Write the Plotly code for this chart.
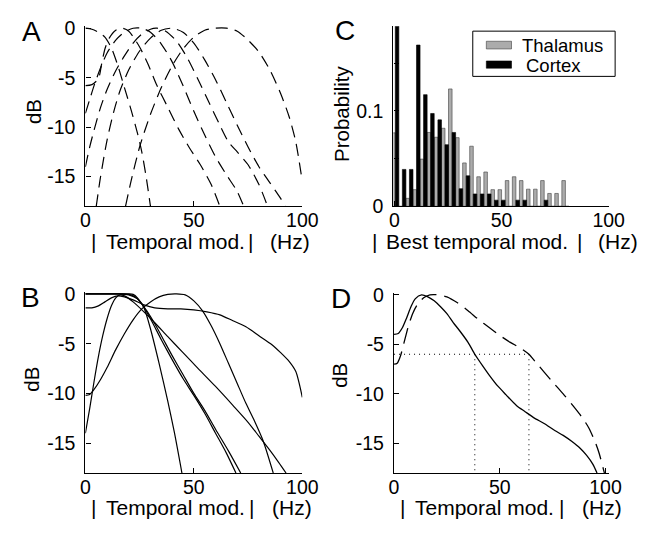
import plotly.graph_objects as go

W, H = 666, 536
FONT = "Liberation Sans, Arial, Helvetica, sans-serif"

# ---------------- Panel A: thalamic model transfer functions (dashed) ----------------
A1_HZ = [0, 3, 6, 9, 12, 15, 18, 21, 24, 26, 28, 30]
A1_DB = [0, -0.1, -0.4, -0.9, -2.0, -3.8, -6.0, -8.2, -10.6, -12.5, -15.0, -18.0]
A2_HZ = [0, 3, 6, 7.5, 9, 11, 14, 17, 20, 25, 29, 33, 38, 43, 48, 53, 58, 62]
A2_DB = [-5.8, -5.7, -5.1, -3.6, -2.1, -1.0, -0.2, 0, -0.3, -1.9, -3.7, -5.8, -8.0, -10.2, -12.1, -13.8, -15.8, -18]
A3_HZ = [0, 2, 4, 7, 10, 14, 18, 22, 26, 30, 35, 40, 45, 50, 55, 60, 65, 70, 73]
A3_DB = [-8.6, -7.2, -5.8, -4.0, -2.5, -1.2, -0.4, 0, 0, -0.4, -1.6, -3.4, -5.8, -8.4, -10.8, -13.0, -14.8, -16.5, -18]
A4_HZ = [0, 2, 4, 7, 10, 14, 18, 22, 26, 30, 33, 37, 42, 47, 52, 57, 62, 66, 70, 75, 80, 84]
A4_DB = [-14, -12.0, -10.3, -8.0, -6.2, -4.3, -2.8, -1.5, -0.6, -0.1, 0, -0.3, -1.3, -3.0, -5.2, -7.5, -9.8, -11.5, -12.5, -13.8, -15.8, -18]
A5_HZ = [5, 7, 10, 13, 16, 20, 25, 30, 35, 40, 45, 50, 55, 60, 65, 70, 75, 80, 85, 90, 92]
A5_DB = [-18, -15.0, -11.3, -8.5, -6.3, -4.2, -2.3, -1.0, -0.2, 0, -0.4, -1.5, -3.2, -5.2, -7.5, -9.8, -12.0, -14.0, -15.6, -17.2, -18]
A6_HZ = [18.5, 21, 25, 30, 35, 40, 45, 50, 55, 60, 65, 70, 75, 80, 85, 90, 94, 97, 100]
A6_DB = [-18, -15.5, -12.0, -8.7, -6.0, -3.8, -2.1, -0.9, -0.2, 0, 0, -0.3, -1.2, -2.4, -4.2, -6.6, -9.0, -11.5, -15.5]

# ---------------- Panel B: cortical transfer functions (solid) ----------------
B1_HZ = [0, 5, 10, 15, 20, 22, 24, 27, 30, 34, 38, 41, 44.5]
B1_DB = [0, 0, 0, 0, 0, -0.05, -0.4, -1.4, -3.5, -7.0, -10.8, -13.9, -18]
B2_HZ = [0, 5, 10, 15, 20, 23, 26, 30, 35, 40, 45, 50, 55, 60, 65, 69.4]
B2_DB = [0, 0, 0, 0, -0.05, -0.3, -1.0, -2.5, -4.6, -6.6, -8.5, -10.2, -12.0, -14.0, -16.0, -18]
B3_HZ = [0, 5, 10, 15, 20, 24, 28, 32, 36, 40, 45, 50, 55, 60, 66, 71.6]
B3_DB = [0, 0, 0, 0, -0.1, -0.5, -1.6, -3.0, -4.6, -6.2, -8.1, -10.0, -11.7, -13.6, -15.8, -18]
B4_HZ = [0, 2, 4, 6, 8, 10, 12, 14, 16, 18, 22, 27, 32, 38, 45, 52, 60, 68, 75, 80, 85, 89, 92.5]
B4_DB = [-14, -11.5, -8.8, -6.3, -4.2, -2.5, -1.2, -0.4, -0.1, -0.2, -0.8, -1.8, -2.9, -4.3, -5.9, -7.5, -9.3, -11.2, -12.9, -14.3, -15.7, -16.9, -18]
B5_HZ = [0, 2, 4, 7, 10, 14, 18, 22, 26, 30, 34, 38, 42, 46, 50, 54, 58, 62, 66, 70, 74, 78, 82, 86.6]
B5_DB = [-10.2, -10.1, -9.6, -8.6, -7.4, -5.6, -4.0, -2.6, -1.5, -0.8, -0.3, -0.05, 0, -0.1, -0.7, -1.7, -3.2, -5.0, -7.0, -9.0, -11.0, -12.8, -14.8, -18]
B6_HZ = [0, 3, 6, 9, 12, 15, 18, 22, 27, 32, 38, 44, 50, 56, 62, 68, 74, 80, 86, 90, 94, 97, 100]
B6_DB = [-1.4, -1.4, -1.2, -0.8, -0.4, -0.2, -0.3, -0.6, -1.1, -1.4, -1.5, -1.5, -1.6, -1.8, -2.1, -2.7, -3.3, -4.2, -5.1, -5.9, -6.8, -7.8, -10.4]

# ---------------- Panel C: histogram of best temporal modulation ----------------
BIN_HZ = [0.4, 3.7, 7.0, 10.3, 13.6, 16.9, 20.3, 23.6, 26.9, 30.2, 33.5, 36.8, 40.1,
          43.4, 46.7, 50.0, 53.4, 56.7, 60.0, 63.3, 66.6, 69.9, 73.2, 76.5, 79.8]
THALAMUS = [0.077, 0.0, 0.0084, 0.0175, 0.0495, 0.0774, 0.0724, 0.0818, 0.123, 0.072, 0.0455, 0.063, 0.031,
            0.036, 0.0175, 0.0175, 0.027, 0.031, 0.027, 0.018, 0.018, 0.027, 0.0135, 0.0135, 0.027]
CORTEX = [0.21, 0.0387, 0.0387, 0.169, 0.117, 0.0973, 0.0906, 0.0646, 0.0774, 0.0185, 0.032, 0.013, 0.013,
          0.013, 0.0065, 0.0065, 0.0, 0.0065, 0.0065, 0.0, 0.0, 0.0065, 0.0, 0.0, 0.0]
BAR_W = 1.66

# ---------------- Panel D: population averages ----------------
D_SOLID_HZ = [0, 2, 4, 6, 8, 10, 13, 16, 19, 22, 25, 28, 31.3, 35, 38.2, 42, 45, 49, 53, 58, 62, 66, 71, 76, 80, 84, 88, 91, 94, 96]
D_SOLID_DB = [-4.0, -3.9, -3.3, -2.3, -1.2, -0.4, 0, -0.2, -0.6, -1.2, -1.9, -2.8, -3.7, -4.8, -6.0, -7.2, -8.1, -9.2, -10.1, -11.2, -11.8, -12.4, -13.0, -13.7, -14.2, -14.8, -15.5, -16.2, -17.1, -18]
D_DASH_HZ = [0, 1.5, 3, 5, 7, 9, 11, 14, 17, 21, 25, 30, 35, 40, 45, 50, 55, 60, 63.8, 67, 71, 75, 80, 85, 89, 92, 95, 97, 99, 99.5]
D_DASH_DB = [-7.0, -6.9, -6.2, -4.6, -3.0, -1.8, -1.0, -0.3, 0, 0, -0.2, -0.8, -1.6, -2.5, -3.3, -4.1, -4.8, -5.4, -6.0, -6.8, -7.8, -8.8, -10.0, -11.3, -12.4, -13.4, -14.8, -16.0, -17.6, -18]
CUTOFF_DB = -6
CUTOFF_HZ = [38.2, 63.8]

DB_TICKS = [0, -5, -10, -15]
DB_TICKTEXT = ["0", "-5", "-10", "-15"]
HZ_TICKS = [0, 50, 100]
PROB_TICKS = [0, 0.05, 0.1, 0.15]
PROB_TICKTEXT = ["0", "", "0.1", ""]


def fx(px):
    return px / W


def fy(py):
    return 1 - py / H


def axis(dom, rng, vals, text, anchor, side):
    d = dict(
        domain=dom, range=rng, tickvals=vals, ticktext=text, anchor=anchor,
        showline=True, linecolor="black", linewidth=1.3, mirror=False,
        ticks="inside", ticklen=5, tickwidth=1, tickcolor="black",
        showgrid=False, zeroline=False, fixedrange=True,
        tickfont=dict(family=FONT, size=19.5, color="black"),
    )
    d["ticklabelstandoff"] = 5 if side == "y" else -4
    return d


fig = go.Figure()


def lines(curves, xa, ya, dash, width):
    for hz, db in curves:
        fig.add_trace(go.Scatter(
            x=hz, y=db, mode="lines", xaxis=xa, yaxis=ya, showlegend=False, hoverinfo="skip",
            line=dict(color="black", width=width, dash=dash, shape="spline", smoothing=0.7),
        ))


lines([(A1_HZ, A1_DB), (A2_HZ, A2_DB), (A3_HZ, A3_DB), (A4_HZ, A4_DB), (A5_HZ, A5_DB), (A6_HZ, A6_DB)],
      "x", "y", "12px,7px", 1.2)
lines([(B1_HZ, B1_DB), (B2_HZ, B2_DB), (B3_HZ, B3_DB), (B4_HZ, B4_DB), (B5_HZ, B5_DB), (B6_HZ, B6_DB)],
      "x2", "y2", "solid", 1.2)

fig.add_trace(go.Bar(x=BIN_HZ, y=THALAMUS, width=BAR_W, offset=-BAR_W, xaxis="x3", yaxis="y3",
                     marker=dict(color="#ababab", line=dict(color="#404040", width=0.6)),
                     showlegend=False, hoverinfo="skip"))
fig.add_trace(go.Bar(x=BIN_HZ, y=CORTEX, width=BAR_W, offset=0, xaxis="x3", yaxis="y3",
                     marker=dict(color="black", line=dict(color="black", width=0.6)),
                     showlegend=False, hoverinfo="skip"))

# cutoff guides in D
fig.add_trace(go.Scatter(x=[0, CUTOFF_HZ[1]], y=[CUTOFF_DB, CUTOFF_DB], mode="lines", xaxis="x4", yaxis="y4",
                         line=dict(color="black", width=1, dash="1px,4px"), showlegend=False, hoverinfo="skip"))
for c in CUTOFF_HZ:
    fig.add_trace(go.Scatter(x=[c, c], y=[CUTOFF_DB, -18], mode="lines", xaxis="x4", yaxis="y4",
                             line=dict(color="black", width=1, dash="1px,4px"), showlegend=False, hoverinfo="skip"))
fig.add_trace(go.Scatter(x=D_SOLID_HZ, y=D_SOLID_DB, mode="lines", xaxis="x4", yaxis="y4", showlegend=False,
                         hoverinfo="skip", line=dict(color="black", width=1.3, shape="spline", smoothing=0.7)))
fig.add_trace(go.Scatter(x=D_DASH_HZ, y=D_DASH_DB, mode="lines", xaxis="x4", yaxis="y4", showlegend=False,
                         hoverinfo="skip", line=dict(color="black", width=1.3, dash="16px,8px", shape="spline", smoothing=0.7)))

DB_RANGE = [-18, 0.2]
fig.update_layout(
    width=W, height=H, margin=dict(l=0, r=0, t=0, b=0),
    paper_bgcolor="white", plot_bgcolor="white", barmode="overlay",
    xaxis=axis([fx(83), fx(307)], [0, 100], HZ_TICKS, None, "y", "x"),
    yaxis=axis([fy(205), fy(17.9)], DB_RANGE, DB_TICKS, DB_TICKTEXT, "x", "y"),
    xaxis2=axis([fx(83), fx(307)], [0, 100], HZ_TICKS, None, "y2", "x"),
    yaxis2=axis([fy(482), fy(293.9)], DB_RANGE, DB_TICKS, DB_TICKTEXT, "x2", "y"),
    xaxis3=axis([fx(401), fx(624)], [-0.5, 100.3], HZ_TICKS, None, "y3", "x"),
    yaxis3=axis([fy(205), fy(18)], [0, 0.1886], PROB_TICKS, PROB_TICKTEXT, "x3", "y"),
    xaxis4=axis([fx(401.7), fx(623.3)], [0, 101.5], HZ_TICKS, None, "y4", "x"),
    yaxis4=axis([fy(482), fy(294.9)], DB_RANGE, DB_TICKS, DB_TICKTEXT, "x4", "y"),
)

ann = []


def text(s, x, y, size=20, angle=0):
    ann.append(dict(text=s, x=fx(x), y=fy(y), xref="paper", yref="paper", showarrow=False,
                    xanchor="center", yanchor="middle", textangle=angle,
                    font=dict(family=FONT, size=size, color="black")))


# panel letters
text("A", 27, 23, 28)
text("B", 26, 300, 28)
text("C", 351, 22, 28)
text("D", 347, 301, 28)

# y titles
text("dB", 29, 107, 20.5, -90)
text("dB", 28, 385, 20.5, -90)
text("Probability", 348, 109, 20.5, -90)
text("dB", 346, 381, 20.5, -90)

# x titles
for y, parts in [
    (241, [("|", 91.7), ("Temporal mod.", 176), ("|", 253.3), ("(Hz)", 294)]),
    (518, [("|", 91.7), ("Temporal mod.", 176), ("|", 255), ("(Hz)", 296.5)]),
    (241, [("|", 381.7), ("Best temporal mod.", 487.5), ("|", 593.3), ("(Hz)", 633)]),
    (518, [("|", 410), ("Temporal mod.", 495), ("|", 575), ("(Hz)", 616)]),
]:
    for s, x in parts:
        text(s, x, y, 21)

# legend for panel C
shapes = [
    dict(type="rect", xref="paper", yref="paper", x0=fx(483), x1=fx(630), y0=fy(70), y1=fy(23),
         line=dict(color="black", width=1), fillcolor="white", layer="above"),
    dict(type="rect", xref="paper", yref="paper", x0=fx(497), x1=fx(523), y0=fy(41.5), y1=fy(33.5),
         line=dict(color="#404040", width=0.6), fillcolor="#ababab", layer="above"),
    dict(type="rect", xref="paper", yref="paper", x0=fx(497), x1=fx(523), y0=fy(61.5), y1=fy(54),
         line=dict(color="black", width=0.6), fillcolor="black", layer="above"),
]
for s, x, y in [("Thalamus", 532, 38), ("Cortex", 536, 58.5)]:
    ann.append(dict(text=s, x=fx(x), y=fy(y), xref="paper", yref="paper", showarrow=False,
                    xanchor="left", yanchor="middle", font=dict(family=FONT, size=18.5, color="black")))

fig.update_layout(annotations=ann, shapes=shapes)
fig.write_html("out.html")
